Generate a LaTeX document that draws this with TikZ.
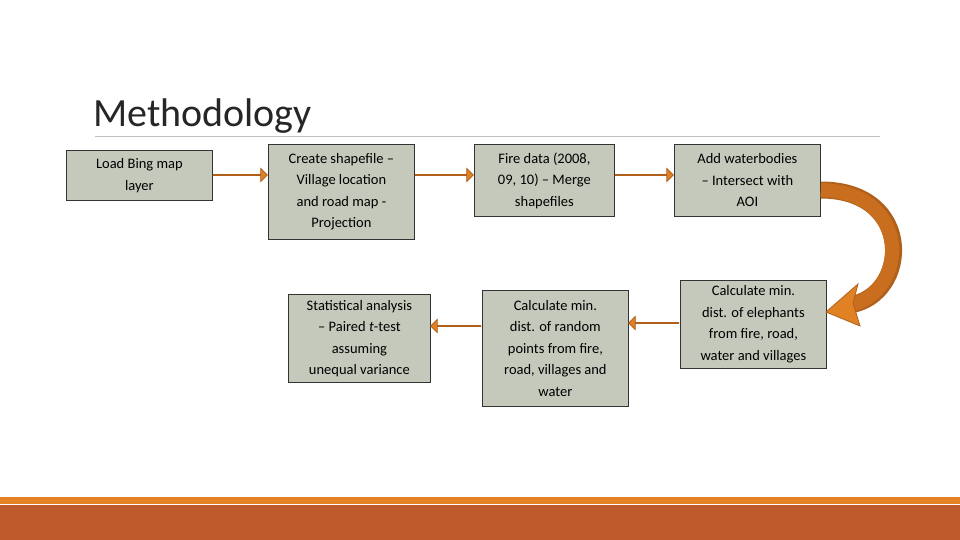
\documentclass[tikz,border=0pt]{standalone}
\usepackage{fontspec}
\setmainfont{Carlito}
\usetikzlibrary{shapes.arrows,arrows.meta}
\definecolor{boxfill}{HTML}{C4C9BC}
\definecolor{arrfill}{HTML}{E08224}
\definecolor{arrdraw}{HTML}{B0601A}
\definecolor{curvec}{HTML}{C86E1E}
\definecolor{barline}{HTML}{E38123}
\definecolor{barrust}{HTML}{BE5A2B}
\tikzset{
 stepbox/.style={draw=black!80,fill=boxfill,line width=0.8pt,align=center,inner sep=2pt,
   font=\fontsize{14.5}{21.5}\selectfont,anchor=north west},
 fat/.style={single arrow,draw=arrdraw,fill=arrfill,line width=0.8pt,minimum height=#1,
   single arrow head extend=5pt,minimum width=13pt,inner sep=0pt}
}
\begin{document}
\begin{tikzpicture}[x=1pt,y=-1pt]
\useasboundingbox (0,0) rectangle (960,540);
\fill[white] (0,0) rectangle (960,540);
\node[anchor=base west,inner sep=0pt,font=\fontsize{40}{40}\selectfont,text=black!85] (title) at (93,127) {Methodology};
\draw[black!25,line width=0.8pt] (95,136) coordinate (l1) -- (880,136) coordinate (l2);
\fill[barline] (0,497) rectangle (960,504);
\fill[barrust] (0,505) rectangle (960,540);
\node[stepbox,minimum width=146pt,minimum height=50pt] (A) at (66,150) {Load Bing map\\layer};
\node[stepbox,minimum width=146pt,minimum height=95pt] (B) at (268,144) {Create shapefile –\\Village location\\and road map -\\Projection};
\node[stepbox,minimum width=140pt,minimum height=72pt] (C) at (474,144) {Fire data (2008,\\09, 10) – Merge\\shapefiles};
\node[stepbox,minimum width=146pt,minimum height=72pt] (D) at (674,144) {Add waterbodies\\– Intersect with\\AOI};
\node[stepbox,minimum width=142pt,minimum height=88pt] (E) at (288,294) {Statistical analysis\\– Paired \textit{t}-test\\assuming\\unequal variance};
\node[stepbox,minimum width=146pt,minimum height=116pt] (F) at (482,290) {Calculate min.\\dist. of random\\points from fire,\\road, villages and\\water};
\node[stepbox,minimum width=146pt,minimum height=88pt,anchor=north west] (G) at (680,280) {Calculate min.\\dist. of elephants\\from fire, road,\\water and villages};
\node[fat=54pt] (a1) at (240,175) {};
\node[fat=58pt] (a2) at (444,175) {};
\node[fat=58pt] (a3) at (644,175) {};
\node[fat=50pt,shape border rotate=180] (a4) at (654,323) {};
\node[fat=50pt,shape border rotate=180] (a5) at (456,326) {};
\coordinate (cs) at (D.east |- 0,190);
\coordinate (ce) at (826,312);
\draw[arrdraw,line width=17pt] (cs) .. controls (915,190) and (910,295) .. (850,305);
\draw[curvec,line width=14pt] (cs) .. controls (913,192) and (908,293) .. (850,305);
\fill[arrfill,draw=arrdraw,line width=0.8pt] (826,312) -- (858,284) -- (853,303) -- (860,326) -- cycle;
\end{tikzpicture}
\end{document}
